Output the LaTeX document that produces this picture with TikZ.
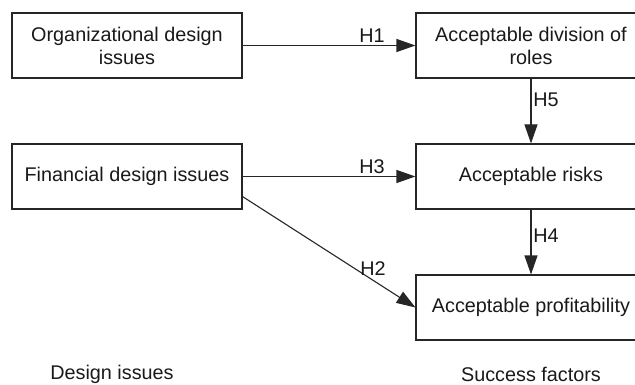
\documentclass[tikz,border=0pt]{standalone}
\usepackage{fontspec}
\setmainfont{Liberation Sans}
\usetikzlibrary{arrows.meta,calc}
\begin{document}
\begin{tikzpicture}[x=1pt,y=-1pt,
  box/.style={draw=black!85, line width=1.1pt, rectangle, minimum width=230pt, minimum height=65pt,
    inner sep=0pt, align=center, font=\fontsize{19.8}{23}\selectfont, text=black!90},
  lab/.style={font=\fontsize{19.8}{23}\selectfont, text=black!90, inner sep=0pt},
  conn/.style={draw=black!85, line width=1.1pt, -{Triangle[length=19pt,width=13pt]}}]
\useasboundingbox (0,0) rectangle (635,385);
\clip (0,0) rectangle (635,385);
\node[box] (org) at (127,45.5) {Organizational design\\issues};
\node[box] (fin) at (127,176.5) {Financial design issues};
\node[box] (div) at (531,45.5) {Acceptable division of\\roles};
\node[box] (risk) at (531,176.5) {Acceptable risks};
\node[box] (prof) at (531,307.5) {Acceptable profitability};
\coordinate (h2s) at ([yshift=13pt]fin.south east);
\draw[conn] (org) -- (div);
\draw[conn] (fin) -- (risk);
\draw[conn] (div) -- (risk);
\draw[conn] (risk) -- (prof);
\draw[conn] (h2s) -- (prof.west);
\node[lab] (h1) at (372,36) {H1};
\node[lab] (h3) at (372,167) {H3};
\node[lab] (h5) at (546,100) {H5};
\node[lab] (h4) at (546,236) {H4};
\node[lab] (h2) at (373,269) {H2};
\node[lab] (di) at (112,374) {Design issues};
\node[lab] (sf) at (531,374) {Success factors};
\end{tikzpicture}
\end{document}
